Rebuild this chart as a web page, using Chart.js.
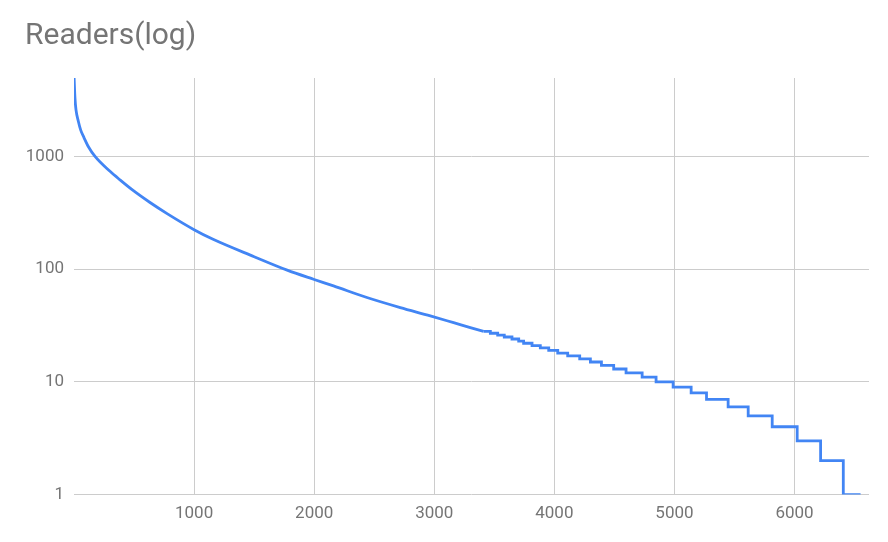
<!DOCTYPE html>
<html>
<head>
<meta charset="utf-8">
<script src="https://cdn.jsdelivr.net/npm/chart.js@4/dist/chart.umd.min.js"></script>
<style>
  html, body { margin: 0; padding: 0; background: #ffffff; }
  #wrap { width: 888px; height: 542px; position: relative; }
</style>
</head>
<body>
<div id="wrap"><canvas id="c" width="888" height="542"></canvas></div>
<script>
// Smooth upper part of the curve: rank -> readers
const curveRanks   = [1, 8, 17, 36, 56, 83, 120, 175, 300, 383, 492, 633, 775, 1000, 1158, 1500, 1775, 2000, 2161, 2439, 2717, 2967, 3161, 3300, 3411];
const curveReaders = [4960, 3300, 2570, 2050, 1710, 1470, 1218, 1000, 737, 619, 499, 390, 311, 224, 184, 129, 98, 81, 71, 56, 45.6, 38.5, 33.5, 30.3, 28];

// Stepped tail: rank where each integer reader count begins
const stepRanks   = [3411, 3467, 3528, 3583, 3647, 3703, 3744, 3814, 3883, 3953, 4028, 4111, 4211, 4300, 4392, 4494, 4597, 4731, 4847, 4989, 5139, 5267, 5447, 5614, 5814, 6022, 6217, 6406, 6550];
const stepReaders = [28, 27, 26, 25, 24, 23, 22, 21, 20, 19, 18, 17, 16, 15, 14, 13, 12, 11, 10, 9, 8, 7, 6, 5, 4, 3, 2, 1, 1];

// Axis ticks
const xTicks = [1000, 2000, 3000, 4000, 5000, 6000];
const yTicks = [1, 10, 100, 1000];
const xMax = 6620;
const yMax = 4960;

const titleText = 'Readers(log)';

const curveData = curveRanks.map((r, i) => ({ x: r, y: curveReaders[i] }));
const stepData = stepRanks.map((r, i) => ({ x: r, y: stepReaders[i] }));

const blue = '#4285F4';
const textColor = '#757575';
const gridColor = '#cccccc';

new Chart(document.getElementById('c'), {
  type: 'line',
  data: {
    datasets: [
      { label: 'Readers', data: curveData, borderColor: blue, borderWidth: 2.8, pointRadius: 0, cubicInterpolationMode: 'monotone', fill: false },
      { label: 'Readers', data: stepData, borderColor: blue, borderWidth: 2.8, pointRadius: 0, stepped: true, fill: false }
    ]
  },
  options: {
    responsive: false,
    animation: false,
    events: [],
    layout: { padding: { left: 25, right: 19, top: 0, bottom: 9 } },
    plugins: {
      legend: { display: false },
      tooltip: { enabled: false },
      title: {
        display: true,
        text: titleText,
        align: 'start',
        color: textColor,
        font: { family: 'Roboto', size: 30, weight: 'normal' },
        padding: { top: 18, bottom: 24 }
      }
    },
    scales: {
      x: {
        type: 'linear',
        min: 0,
        max: xMax,
        afterBuildTicks: (s) => { s.ticks = xTicks.map(v => ({ value: v })); },
        ticks: {
          color: textColor,
          font: { family: 'Roboto', size: 17 },
          padding: 9,
          maxRotation: 0,
          callback: (v) => String(v)
        },
        grid: { color: gridColor, lineWidth: 1, drawTicks: false },
        border: { display: false }
      },
      y: {
        type: 'logarithmic',
        min: 1,
        max: yMax,
        afterBuildTicks: (s) => { s.ticks = yTicks.map(v => ({ value: v })); },
        afterFit: (s) => { s.width = 49; },
        ticks: {
          color: textColor,
          font: { family: 'Roboto', size: 17 },
          padding: 10,
          callback: (v) => String(v)
        },
        grid: { color: gridColor, lineWidth: 1, drawTicks: false },
        border: { display: false }
      }
    }
  }
});
</script>
</body>
</html>
